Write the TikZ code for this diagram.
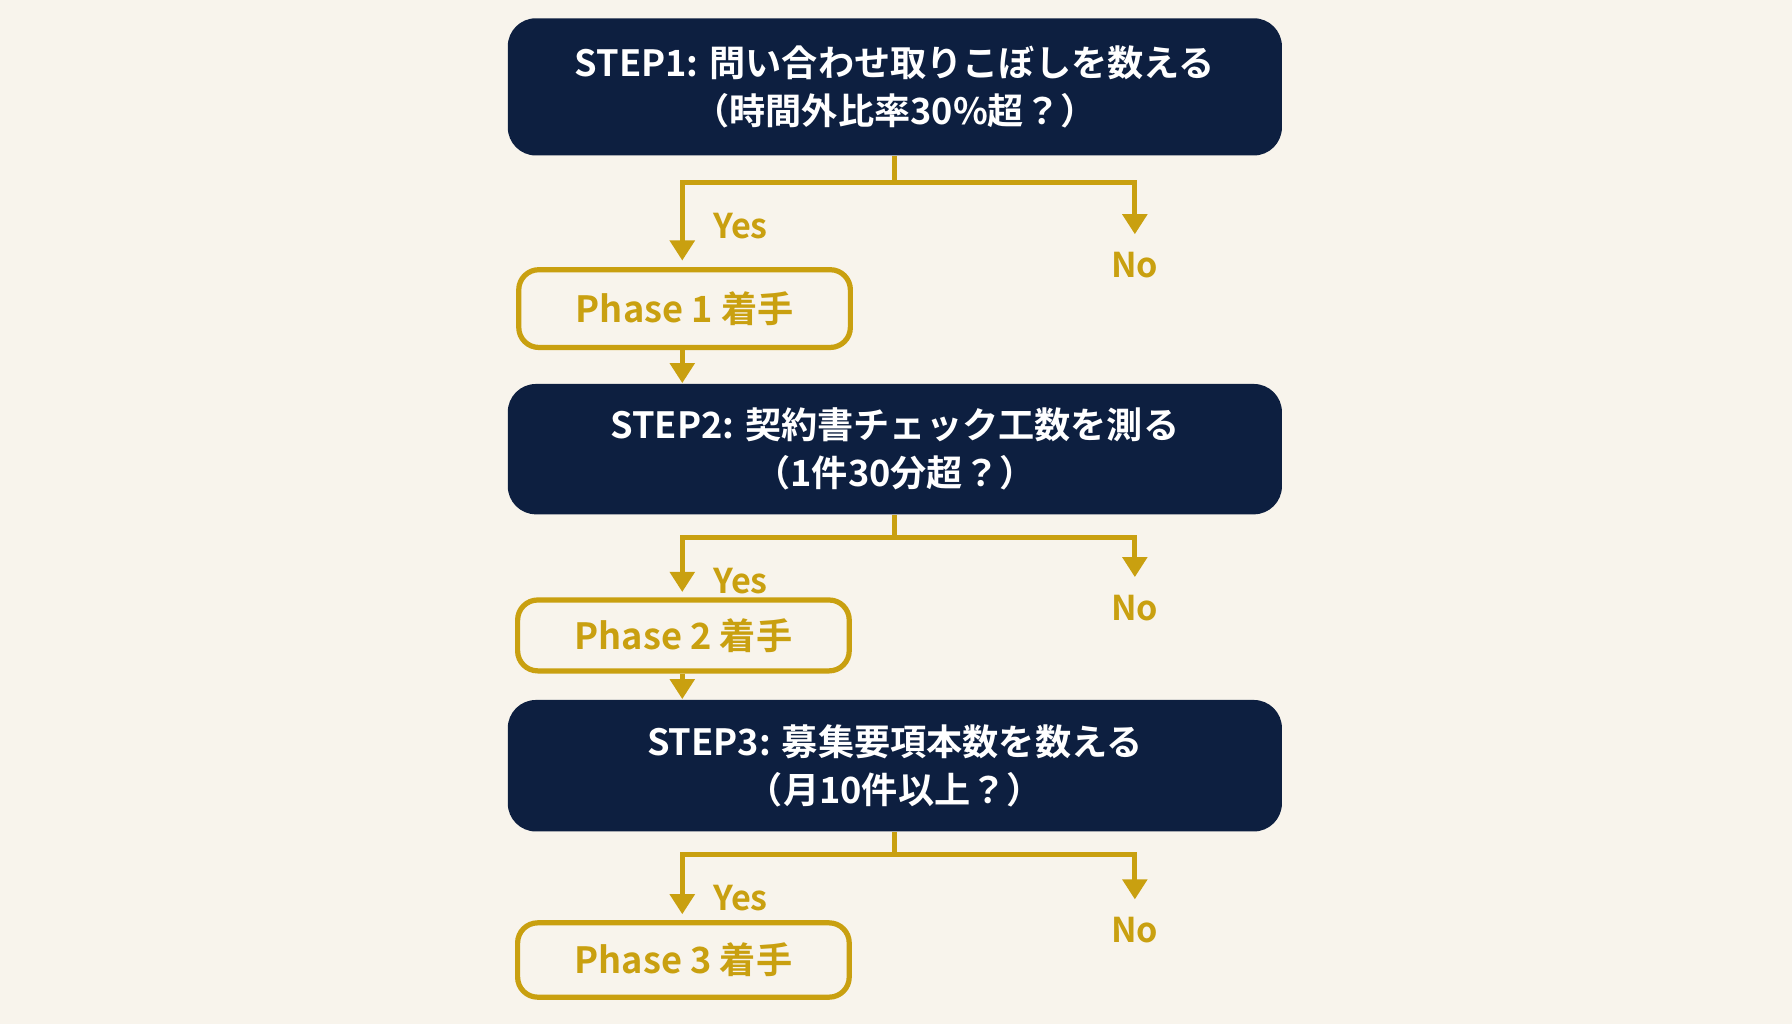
\documentclass[tikz,border=0pt]{standalone}
\usepackage{fontspec}
\setmainfont{Noto Sans CJK JP}[BoldFont={* Bold}]
\usetikzlibrary{arrows.meta,positioning}
\definecolor{navy}{HTML}{0D1F40}
\definecolor{gold}{HTML}{C9A010}
\definecolor{paper}{HTML}{F8F4EC}
\begin{document}
\begin{tikzpicture}[x=0.01cm,y=-0.01cm,>={Triangle[length=5pt,width=6pt]},
		stepbox/.style={fill=navy,rounded corners=7pt,minimum width=6.77cm,text=white,
			font=\bfseries\fontsize{9pt}{12pt}\selectfont,align=center},
		phase/.style={draw=gold,line width=1.3pt,fill=paper,rounded corners=5pt,minimum width=2.9cm,
			text=gold,font=\bfseries\fontsize{9pt}{11pt}\selectfont},
		lab/.style={text=gold,font=\bfseries\fontsize{8.5pt}{10pt}\selectfont},
		flow/.style={draw=gold,line width=1.3pt}]
	\fill[paper] (0,0) rectangle (1568,896);

	\node[stepbox,minimum height=1.2cm] (S1) at (783,76) {STEP1: 問い合わせ取りこぼしを数える\\（時間外比率30\%超？）};
	\node[phase,minimum height=0.68cm] (P1) at (599,270) {Phase 1 着手};
	\node[stepbox,minimum height=1.14cm] (S2) at (783,393) {STEP2: 契約書チェック工数を測る\\（1件30分超？）};
	\node[phase,minimum height=0.62cm] (P2) at (598,556) {Phase 2 着手};
	\node[stepbox,minimum height=1.15cm] (S3) at (783,670) {STEP3: 募集要項本数を数える\\（月10件以上？）};
	\node[phase,minimum height=0.65cm] (P3) at (598,840) {Phase 3 着手};

	% branches
	\foreach \s/\b/\ey/\ny in {S1/160/228/205, S2/470/518/505, S3/748/800/787}{
		\coordinate (\s-b) at (783,\b);
		\coordinate (\s-no) at (993,\ny);
		\draw[flow,->] (\s.south) -- (\s-b) -| (597,\ey);
		\draw[flow,->] (\s-b) -| (\s-no);
		\node[lab] at (648,\b+38) {Yes};
		\node[lab,below=1pt of \s-no] {No};
	}
	\draw[flow,->] (P1.south -| 597,0) -- (S2.north -| 597,0);
	\draw[flow,->] (P2.south -| 597,0) -- (S3.north -| 597,0);
\end{tikzpicture}
\end{document}
